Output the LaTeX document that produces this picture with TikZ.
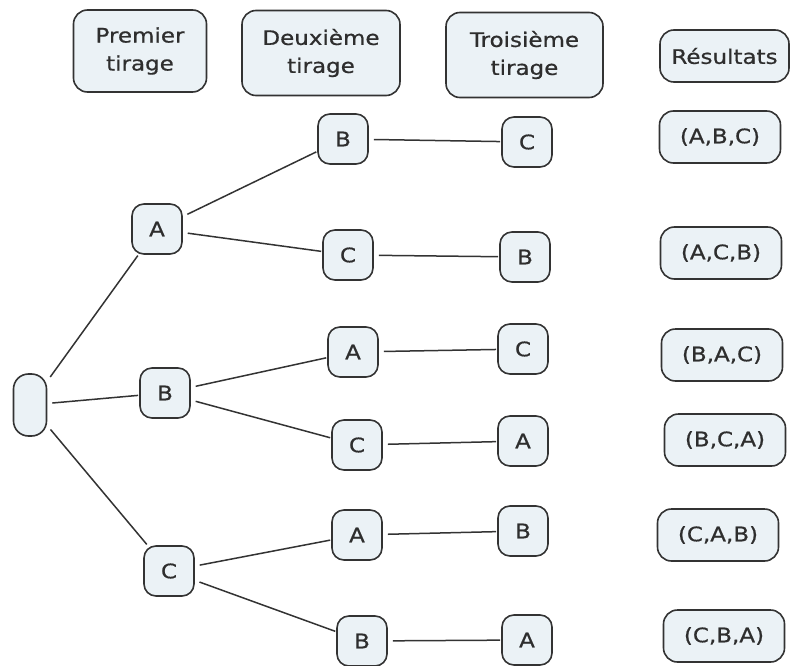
\documentclass[tikz,border=0pt]{standalone}
\usepackage{fontspec}
\setmainfont{DejaVu Sans}[FakeStretch=1.15, FakeBold=0.7]
\definecolor{boxfill}{HTML}{EBF2F6}
\definecolor{boxdraw}{HTML}{333333}
\definecolor{txt}{HTML}{2E2E2E}
\begin{document}
\begin{tikzpicture}[x=1pt,y=-1pt,
  box/.style={draw=boxdraw, line width=1.6pt, fill=boxfill, rounded corners=12pt,
    text=txt, font=\fontsize{20}{28}\selectfont, inner sep=0pt, align=center},
  leaf/.style={box, minimum width=50pt, minimum height=50pt},
  res/.style={box, minimum width=121pt, minimum height=52pt, rounded corners=14pt},
  head/.style={box, rounded corners=14pt},
  edge/.style={draw=boxdraw, line width=1.5pt, shorten <=5pt, shorten >=1pt}]
\useasboundingbox (0,0) rectangle (792,666);
% headers
\node[head, minimum width=133pt, minimum height=82pt] (h1) at (140,51) {Premier\\tirage};
\node[head, minimum width=158pt, minimum height=85pt] (h2) at (321,53) {Deuxième\\tirage};
\node[head, minimum width=157pt, minimum height=85pt] (h3) at (524.5,55) {Troisième\\tirage};
\node[head, minimum width=129pt, minimum height=52pt] (h4) at (724.5,56) {Résultats};
% root
\node[box, minimum width=33pt, minimum height=62pt, rounded corners=15pt] (r) at (30,405) {};
% level 1
\node[leaf] (a) at (157,229) {A};
\node[leaf] (b) at (165,393) {B};
\node[leaf] (c) at (169,571) {C};
% level 2
\node[leaf] (ab) at (343,139) {B};
\node[leaf] (ac) at (348,255) {C};
\node[leaf] (ba) at (353,352) {A};
\node[leaf] (bc) at (357,445) {C};
\node[leaf] (ca) at (357,535) {A};
\node[leaf] (cb) at (362,641) {B};
% level 3
\node[leaf] (abc) at (527,142) {C};
\node[leaf] (acb) at (525,257) {B};
\node[leaf] (bac) at (523,349) {C};
\node[leaf] (bca) at (523,441) {A};
\node[leaf] (cab) at (523,531) {B};
\node[leaf] (cba) at (527,640) {A};
% results
\node[res] (r1) at (720,137) {(A,B,C)};
\node[res] (r2) at (721,253) {(A,C,B)};
\node[res] (r3) at (722,355) {(B,A,C)};
\node[res] (r4) at (725,440) {(B,C,A)};
\node[res] (r5) at (718,535) {(C,A,B)};
\node[res] (r6) at (724,636) {(C,B,A)};
% edges
\draw[edge] (r) -- (a);
\draw[edge] (r) -- (b);
\draw[edge] (r) -- (c);
\draw[edge] (a) -- (ab);
\draw[edge] (a) -- (ac);
\draw[edge] (b) -- (ba);
\draw[edge] (b) -- (bc);
\draw[edge] (c) -- (ca);
\draw[edge] (c) -- (cb);
\draw[edge] (ab) -- (abc);
\draw[edge] (ac) -- (acb);
\draw[edge] (ba) -- (bac);
\draw[edge] (bc) -- (bca);
\draw[edge] (ca) -- (cab);
\draw[edge] (cb) -- (cba);
\end{tikzpicture}
\end{document}
